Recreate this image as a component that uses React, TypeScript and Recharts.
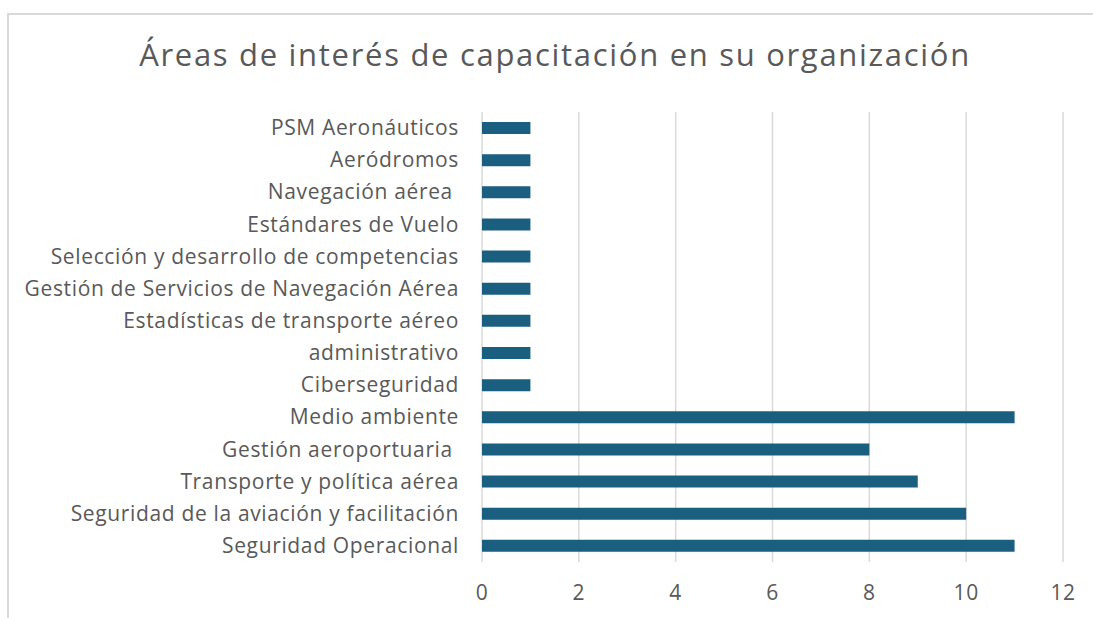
import React from "react";
import { BarChart, Bar, XAxis, YAxis, CartesianGrid } from "recharts";

const categories = [
    "PSM Aeronáuticos",
    "Aeródromos",
    "Navegación aérea ",
    "Estándares de Vuelo",
    "Selección y desarrollo de competencias",
    "Gestión de Servicios de Navegación Aérea",
    "Estadísticas de transporte aéreo",
    "administrativo",
    "Ciberseguridad",
    "Medio ambiente",
    "Gestión aeroportuaria ",
    "Transporte y política aérea",
    "Seguridad de la aviación y facilitación",
    "Seguridad Operacional",
];
const counts = [1, 1, 1, 1, 1, 1, 1, 1, 1, 11, 8, 9, 10, 11];
const xTicks = [0, 2, 4, 6, 8, 10, 12];

const data = categories.map((name, i) => ({ name, value: counts[i] }));

const FONT = "'Open Sans', sans-serif";
const TEXT = "#595959";

function CategoryTick(props: any) {
    const { x, y, payload } = props;
    return (
        <text
            x={x}
            y={y}
            dy={7}
            textAnchor="end"
            fill={TEXT}
            fontSize={21}
            fontFamily={FONT}
            letterSpacing={0.65}
            style={{ whiteSpace: "pre" }}
        >
            {payload.value}
        </text>
    );
}

export default function App() {
    return (
        <div style={{ position: "absolute", left: 0, top: 0, width: 1093, height: 618, background: "#fff" }}>
            <div
                style={{
                    position: "absolute",
                    left: 7,
                    top: 13,
                    width: 1086,
                    height: 605,
                    borderLeft: "2px solid #d9d9d9",
                    borderTop: "2px solid #d9d9d9",
                }}
            />
            <div
                style={{
                    position: "absolute",
                    left: 0,
                    top: 33,
                    width: 1110,
                    textAlign: "center",
                    fontFamily: FONT,
                    fontSize: 31,
                    letterSpacing: 1.7,
                    color: TEXT,
                }}
            >
                Áreas de interés de capacitación en su organización
            </div>
            <div style={{ position: "absolute", left: 0, top: 0 }}>
                <BarChart
                    width={1093}
                    height={618}
                    data={data}
                    layout="vertical"
                    margin={{ top: 112, right: 30, bottom: 16, left: 0 }}
                    barCategoryGap={0}
                >
                    <CartesianGrid horizontal={false} stroke="#d9d9d9" strokeWidth={1.5} />
                    <XAxis
                        type="number"
                        domain={[0, 12]}
                        ticks={xTicks}
                        axisLine={false}
                        tickLine={false}
                        height={40}
                        tickMargin={17}
                        tick={{ fill: TEXT, fontSize: 21, fontFamily: FONT, letterSpacing: 0.6 }}
                    />
                    <YAxis
                        type="category"
                        dataKey="name"
                        width={482}
                        axisLine={false}
                        tickLine={false}
                        tickSize={0}
                        tickMargin={23}
                        interval={0}
                        tick={<CategoryTick />}
                    />
                    <Bar dataKey="value" fill="#1a5e80" barSize={12} isAnimationActive={false} />
                </BarChart>
            </div>
        </div>
    );
}
